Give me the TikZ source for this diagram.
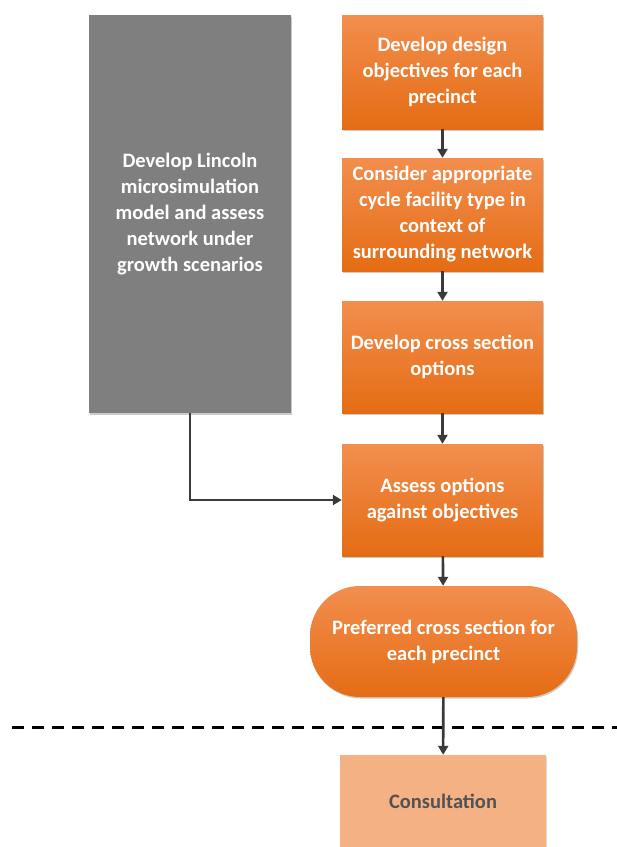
\documentclass[tikz,border=0pt]{standalone}
\usepackage{fontspec}
\setmainfont{Carlito}
\usetikzlibrary{shadows,arrows.meta}
\definecolor{orTop}{HTML}{F28E4E}
\definecolor{orBot}{HTML}{E56C14}
\definecolor{grayBox}{HTML}{7F7F7F}
\definecolor{lightOr}{HTML}{F4B183}
\definecolor{arrowCol}{HTML}{3A3A3A}
\tikzset{
  base/.style={draw=none, minimum width=201pt, align=center, inner sep=2pt,
    font=\fontsize{20.5}{26}\selectfont\bfseries, text=white,
    drop shadow={shadow xshift=1pt, shadow yshift=-1.5pt, opacity=0.35, fill=black!60}},
  orbox/.style={base, top color=orTop, bottom color=orBot, minimum height=113pt},
  graybox/.style={base, fill=grayBox, minimum width=202pt},
  stadium/.style={base, top color=orTop, bottom color=orBot, minimum width=267pt, minimum height=111pt, rounded corners=50pt},
  lightbox/.style={draw=none, fill=lightOr, minimum width=206pt, minimum height=92pt, align=center,
    font=\fontsize{20.5}{26}\selectfont\bfseries, text=black!68,
    drop shadow={shadow xshift=1pt, shadow yshift=-1.5pt, opacity=0.25, fill=black!60}},
  conn/.style={draw=arrowCol, line width=2.6pt, -{Triangle[length=9pt,width=10pt]}}
}
\begin{document}
\begin{tikzpicture}[x=1pt,y=-1pt]
\useasboundingbox (0,0) rectangle (617,847);
\node[graybox, minimum height=398pt] (lin) at (190,214) {Develop Lincoln\\microsimulation\\model and assess\\network under\\growth scenarios};
\node[orbox, minimum height=114pt] (b1) at (442.5,72) {Develop design\\objectives for each\\precinct};
\node[orbox] (b2) at (442.5,214.5) {Consider appropriate\\cycle facility type in\\context of\\surrounding network};
\node[orbox, minimum height=112pt] (b3) at (442.5,357) {Develop cross section\\options};
\node[orbox, minimum height=112pt] (b4) at (442.5,500) {Assess options\\against objectives};
\node[stadium] (pref) at (443.5,641.5) {Preferred cross section for\\each precinct};
\node[lightbox] (cons) at (443,801) {Consultation};
\coordinate (dl) at (12,727);
\coordinate (dr) at (617,727);
\draw[black, line width=3pt, dash pattern=on 12pt off 8pt] (dl) -- (dr);
\draw[conn] (b1) -- (b2);
\draw[conn] (b2) -- (b3);
\draw[conn] (b3) -- (b4);
\draw[conn] (b4) -- (pref);
\draw[conn] (pref) -- (cons);
\draw[conn] (lin.south) |- (b4.west);
\end{tikzpicture}
\end{document}
